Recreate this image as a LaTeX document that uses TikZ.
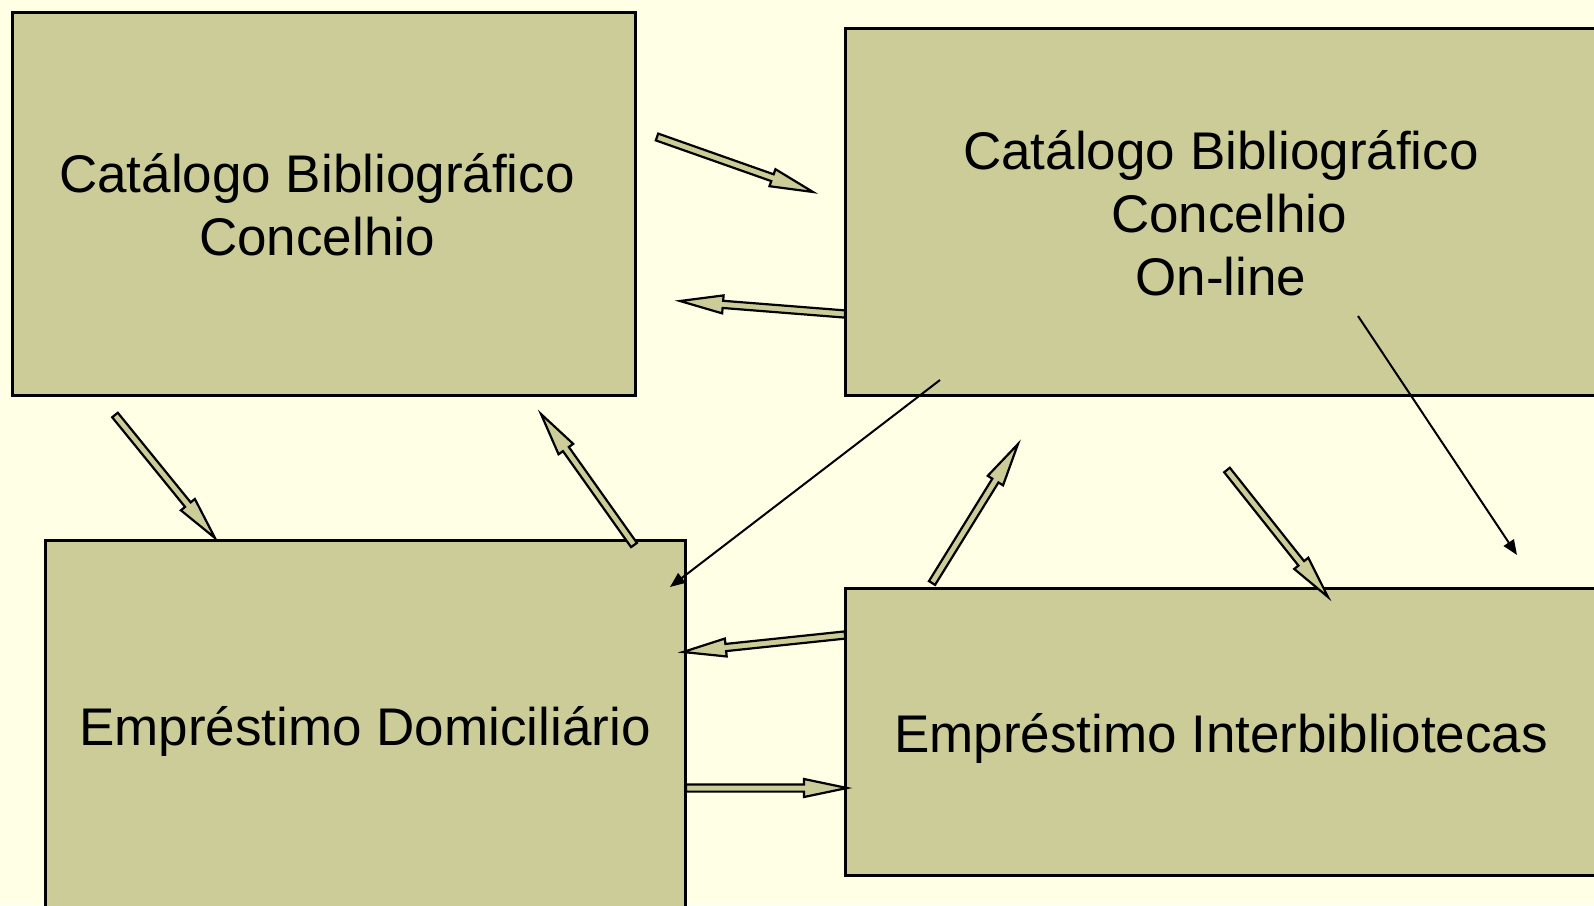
\documentclass[tikz,border=0pt]{standalone}
\usepackage{fontspec}
\setmainfont{Liberation Sans}
\usetikzlibrary{calc,arrows.meta}
\definecolor{bg}{HTML}{FFFFE5}
\definecolor{khaki}{HTML}{CCCC99}
\tikzset{
  box/.style={draw=black, line width=3pt, fill=khaki, rectangle, inner sep=0pt},
  lbl/.style={inner sep=0pt, align=center, font=\fontsize{53}{63}\selectfont},
  blk/.style={draw=black, line width=2.2pt, fill=khaki, line join=miter},
  thinarrow/.style={draw=black, line width=2pt, -{Triangle[length=15pt,width=12pt]}},
}
\newcommand{\blockarrow}[2]{%
  \coordinate (ba-base) at ($(#2)!43pt!(#1)$);
  \draw[blk] ($(#1)!3.6pt!90:(#2)$) -- ($(ba-base)!3.6pt!90:(#2)$)
    -- ($(ba-base)!9pt!90:(#2)$) -- (#2)
    -- ($(ba-base)!9pt!-90:(#2)$) -- ($(ba-base)!3.6pt!-90:(#2)$)
    -- ($(#1)!3.6pt!-90:(#2)$) -- cycle;}
\begin{document}
\begin{tikzpicture}[x=1pt,y=-1pt]
  \useasboundingbox (0,0) rectangle (1594,905);
  \clip (0,0) rectangle (1594,905);
  \fill[bg] (0,0) rectangle (1594,905);

  % boxes
  \draw[box] (12.5,12) rectangle (635.5,395.5);
  \draw[box] (845,28) rectangle (1600,395.5);
  \draw[box] (45,540) rectangle (685.5,922);
  \draw[box] (845,588) rectangle (1600,875);

  % texts
  \node[lbl] (ta) at (317,205) {Catálogo Bibliográfico\\Concelhio};
  \node[lbl] (tb) at (1221,213) {Catálogo Bibliográfico\\\hspace*{16pt}Concelhio\\On-line};
  \node[lbl, anchor=base] (tc) at (365,745) {Empréstimo Domiciliário};
  \node[lbl, anchor=base] (td) at (1221,752) {Empréstimo Interbibliotecas};

  % arrow end points
  \coordinate (a1t) at (657,137);  \coordinate (a1h) at (813,192);
  \coordinate (a2t) at (845,314);  \coordinate (a2h) at (680,301);
  \coordinate (a3t) at (115,415);  \coordinate (a3h) at (215,538);
  \coordinate (a4t) at (634,545);  \coordinate (a4h) at (541,414);
  \coordinate (a5t) at (932,583);  \coordinate (a5h) at (1018,444);
  \coordinate (a6t) at (1227,470); \coordinate (a6h) at (1328,597);
  \coordinate (a7t) at (845,635);  \coordinate (a7h) at (683,652);
  \coordinate (a8t) at (686,788);  \coordinate (a8h) at (847,788);
  \coordinate (t1s) at (1358,316); \coordinate (t1e) at (1517,555);
  \coordinate (t2s) at (940,380);  \coordinate (t2e) at (670,587);

  \blockarrow{a1t}{a1h}
  \blockarrow{a2t}{a2h}
  \blockarrow{a3t}{a3h}
  \blockarrow{a4t}{a4h}
  \blockarrow{a5t}{a5h}
  \blockarrow{a6t}{a6h}
  \blockarrow{a7t}{a7h}
  \blockarrow{a8t}{a8h}

  \draw[thinarrow] (t1s) -- (t1e);
  \draw[thinarrow] (t2s) -- (t2e);
\end{tikzpicture}
\end{document}
